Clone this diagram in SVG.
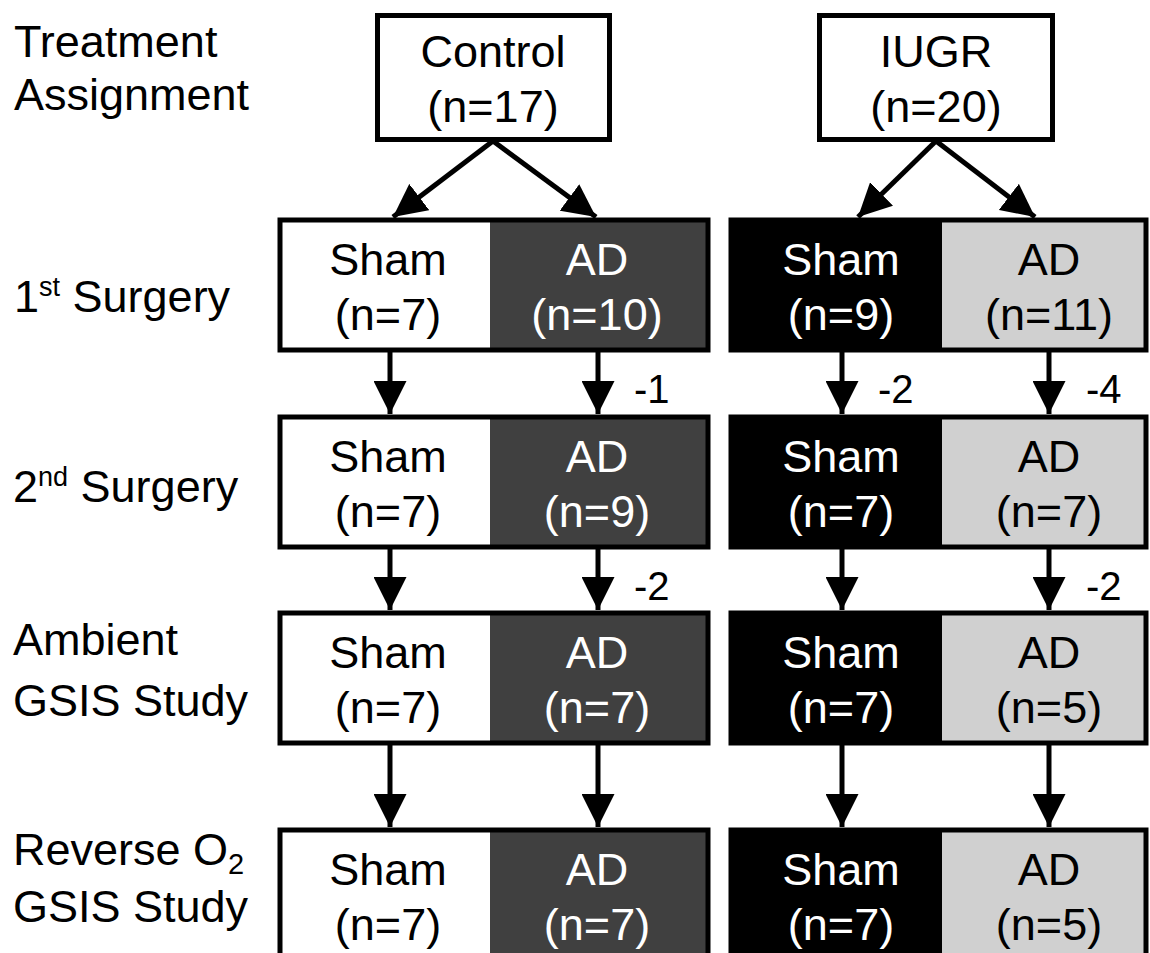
<svg xmlns="http://www.w3.org/2000/svg" width="1150" height="953" viewBox="0 0 1150 953">
<defs>
<marker id="ah" markerUnits="userSpaceOnUse" markerWidth="33" markerHeight="33" refX="33" refY="16.5" orient="auto" viewBox="0 0 33 33">
<path d="M0,0 L33,16.5 L0,33 z" fill="#000"/>
</marker>
<style>
.lbl{font-family:"Liberation Sans",Arial,sans-serif;font-size:45px;fill:#000}
.bt{font-family:"Liberation Sans",Arial,sans-serif;font-size:45px;text-anchor:middle}
.dk{fill:#fff}
.lt{fill:#000}
.dec{font-family:"Liberation Sans",Arial,sans-serif;font-size:40px;fill:#000}
.frame{fill:none;stroke:#000;stroke-width:5}
.conn line{stroke:#000;stroke-width:5;marker-end:url(#ah)}
</style>
</defs>
<rect width="1150" height="953" fill="#fff"/>

<g id="labels">
<text class="lbl" x="14" y="57">Treatment</text>
<text class="lbl" x="14" y="110">Assignment</text>
<text class="lbl" x="14" y="312">1<tspan font-size="27" dy="-16">st</tspan><tspan dy="16"> Surgery</tspan></text>
<text class="lbl" x="13" y="502">2<tspan font-size="27" dy="-16">nd</tspan><tspan dy="16"> Surgery</tspan></text>
<text class="lbl" x="13" y="655">Ambient</text>
<text class="lbl" x="13" y="716">GSIS Study</text>
<text class="lbl" x="13" y="865">Reverse O<tspan font-size="29" dy="9">2</tspan></text>
<text class="lbl" x="13" y="922">GSIS Study</text>
</g>

<g id="control">
<rect x="377.5" y="15.5" width="232" height="124" fill="#fff" stroke="#000" stroke-width="5"/>
<text class="bt lt" x="493" y="67">Control</text>
<text class="bt lt" x="493" y="122">(n=17)</text>
</g>
<g id="iugr">
<rect x="819.5" y="15.5" width="233" height="124" fill="#fff" stroke="#000" stroke-width="5"/>
<text class="bt lt" x="936" y="67">IUGR</text>
<text class="bt lt" x="936" y="122">(n=20)</text>
</g>

<!-- Row 1 -->
<g id="r1-control-sham"><rect x="280" y="220" width="210" height="130" fill="#fff"/><text class="bt lt" x="388" y="275">Sham</text><text class="bt lt" x="388" y="330">(n=7)</text></g>
<g id="r1-control-ad"><rect x="490" y="220" width="218" height="130" fill="#404040"/><text class="bt dk" x="597" y="275">AD</text><text class="bt dk" x="597" y="330">(n=10)</text></g>
<rect class="frame" x="280" y="220" width="428" height="130"/>
<g id="r1-iugr-sham"><rect x="731" y="220" width="211" height="130" fill="#000"/><text class="bt dk" x="841" y="275">Sham</text><text class="bt dk" x="841" y="330">(n=9)</text></g>
<g id="r1-iugr-ad"><rect x="942" y="220" width="204" height="130" fill="#d0d0d0"/><text class="bt lt" x="1049" y="275">AD</text><text class="bt lt" x="1049" y="330">(n=11)</text></g>
<rect class="frame" x="731" y="220" width="415" height="130"/>

<!-- Row 2 -->
<g id="r2-control-sham"><rect x="280" y="417" width="210" height="130" fill="#fff"/><text class="bt lt" x="388" y="472">Sham</text><text class="bt lt" x="388" y="527">(n=7)</text></g>
<g id="r2-control-ad"><rect x="490" y="417" width="218" height="130" fill="#404040"/><text class="bt dk" x="597" y="472">AD</text><text class="bt dk" x="597" y="527">(n=9)</text></g>
<rect class="frame" x="280" y="417" width="428" height="130"/>
<g id="r2-iugr-sham"><rect x="731" y="417" width="211" height="130" fill="#000"/><text class="bt dk" x="841" y="472">Sham</text><text class="bt dk" x="841" y="527">(n=7)</text></g>
<g id="r2-iugr-ad"><rect x="942" y="417" width="204" height="130" fill="#d0d0d0"/><text class="bt lt" x="1049" y="472">AD</text><text class="bt lt" x="1049" y="527">(n=7)</text></g>
<rect class="frame" x="731" y="417" width="415" height="130"/>

<!-- Row 3 -->
<g id="r3-control-sham"><rect x="280" y="613" width="210" height="130" fill="#fff"/><text class="bt lt" x="388" y="668">Sham</text><text class="bt lt" x="388" y="723">(n=7)</text></g>
<g id="r3-control-ad"><rect x="490" y="613" width="218" height="130" fill="#404040"/><text class="bt dk" x="597" y="668">AD</text><text class="bt dk" x="597" y="723">(n=7)</text></g>
<rect class="frame" x="280" y="613" width="428" height="130"/>
<g id="r3-iugr-sham"><rect x="731" y="613" width="211" height="130" fill="#000"/><text class="bt dk" x="841" y="668">Sham</text><text class="bt dk" x="841" y="723">(n=7)</text></g>
<g id="r3-iugr-ad"><rect x="942" y="613" width="204" height="130" fill="#d0d0d0"/><text class="bt lt" x="1049" y="668">AD</text><text class="bt lt" x="1049" y="723">(n=5)</text></g>
<rect class="frame" x="731" y="613" width="415" height="130"/>

<!-- Row 4 -->
<g id="r4-control-sham"><rect x="280" y="830" width="210" height="130" fill="#fff"/><text class="bt lt" x="388" y="885">Sham</text><text class="bt lt" x="388" y="940">(n=7)</text></g>
<g id="r4-control-ad"><rect x="490" y="830" width="218" height="130" fill="#404040"/><text class="bt dk" x="597" y="885">AD</text><text class="bt dk" x="597" y="940">(n=7)</text></g>
<rect class="frame" x="280" y="830" width="428" height="130"/>
<g id="r4-iugr-sham"><rect x="731" y="830" width="211" height="130" fill="#000"/><text class="bt dk" x="841" y="885">Sham</text><text class="bt dk" x="841" y="940">(n=7)</text></g>
<g id="r4-iugr-ad"><rect x="942" y="830" width="204" height="130" fill="#d0d0d0"/><text class="bt lt" x="1049" y="885">AD</text><text class="bt lt" x="1049" y="940">(n=5)</text></g>
<rect class="frame" x="731" y="830" width="415" height="130"/>

<g id="connectors" class="conn">
<line x1="493" y1="141" x2="393" y2="217"/>
<line x1="493" y1="141" x2="596" y2="217"/>
<line x1="936" y1="141" x2="858" y2="217"/>
<line x1="936" y1="141" x2="1035" y2="217"/>
<line x1="390" y1="352" x2="390" y2="414"/>
<line x1="598" y1="352" x2="598" y2="414"/>
<line x1="842" y1="352" x2="842" y2="414"/>
<line x1="1049" y1="352" x2="1049" y2="414"/>
<line x1="390" y1="549" x2="390" y2="610"/>
<line x1="598" y1="549" x2="598" y2="610"/>
<line x1="842" y1="549" x2="842" y2="610"/>
<line x1="1049" y1="549" x2="1049" y2="610"/>
<line x1="390" y1="745" x2="390" y2="827"/>
<line x1="598" y1="745" x2="598" y2="827"/>
<line x1="842" y1="745" x2="842" y2="827"/>
<line x1="1049" y1="745" x2="1049" y2="827"/>
</g>

<g id="losses">
<text class="dec" x="634" y="403">-1</text>
<text class="dec" x="878" y="403">-2</text>
<text class="dec" x="1086" y="403">-4</text>
<text class="dec" x="634" y="600">-2</text>
<text class="dec" x="1086" y="600">-2</text>
</g>
</svg>
